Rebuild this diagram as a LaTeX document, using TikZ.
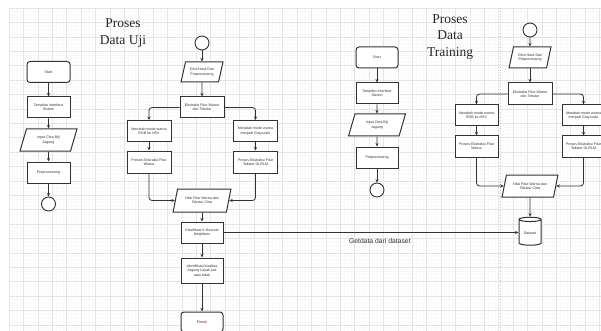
\documentclass[tikz,border=0pt]{standalone}
\usepackage{fontspec}
\usepackage{tikz}
\usetikzlibrary{shapes.geometric,arrows.meta}
\newfontfamily\boxfont{Liberation Sans}
\newfontfamily\titlefont{Liberation Serif}
\definecolor{ink}{rgb}{0.2,0.2,0.2}

\begin{document}
\begin{tikzpicture}[x=1pt, y=-1pt,
	proc/.style={draw=ink, line width=1pt, fill=white, minimum width=43pt, minimum height=21pt,
		inner sep=1pt, align=center, text=ink, font=\boxfont\fontsize{3.6}{4.4}\selectfont},
	term/.style={proc, rounded corners=3pt},
	io/.style={proc, trapezium, trapezium left angle=70, trapezium right angle=110,
		trapezium stretches=true},
	stop/.style={circle, draw=ink, line width=0.9pt, fill=white, minimum size=14pt, inner sep=0pt},
	db/.style={proc, cylinder, shape border rotate=90, aspect=0.3, minimum width=22pt, minimum height=28pt},
	flow/.style={draw=ink, line width=0.8pt, rounded corners=3pt, -{Stealth[length=3.5pt,width=3pt]}},
	title/.style={align=center, text=black!85, font=\titlefont\fontsize{13.5}{16.5}\selectfont}]
	\useasboundingbox (0,0) rectangle (601,331);
	\clip (0,0) rectangle (601,331);
	%\draw[help lines] (0,0) grid (601,331);
		\fill[white] (0,0) rectangle (601,331);
		\foreach \k in {0,...,164}{
		  \draw[gray!4, line width=0.3pt] ({9+3.6*\k},8) -- ({9+3.6*\k},331);
		  \draw[gray!4, line width=0.3pt] (9,{8+3.6*\k}) -- (601,{8+3.6*\k});
		}
		\foreach \k in {0,...,41}{
		  \draw[gray!20, line width=0.4pt] ({9+14.4*\k},8) -- ({9+14.4*\k},331);
		  \draw[gray!20, line width=0.4pt] (9,{8+14.4*\k}) -- (601,{8+14.4*\k});
		}
		\draw[gray!45, line width=0.8pt, dotted] (500,8) -- (500,331);

		% titles
		\node[title] (judulUji) at (123,33) {Proses\\Data Uji};
		\node[title] (judulLatih) at (450,37) {Proses\\Data\\Training};

		% input
		\node[term] (mulaiA) at (48.5,72) {Start};
		\node[proc] (tampilA) at (48.5,107.5) {Tampilan Interface\\Sistem};
		\node[io, minimum width=57pt, minimum height=22pt] (inputA) at (48.5,140) {Input Citra Biji\\Jagung};
		\node[proc] (prepA) at (48.5,172.5) {Preprocessing};
		\node[stop] (akhirA) at (48.5,204) {};
		\foreach \a/\b in {mulaiA/tampilA, tampilA/inputA, inputA/prepA, prepA/akhirA}{
		  \draw[flow] (\a) -- (\b);
		}

		% data uji
		\node[stop] (mulaiB) at (202,43) {};
		\node[io, minimum width=42pt, minimum height=20pt] (citraB) at (202,72) {Citra Hasil Dari\\Preprocessing};
		\node[proc, minimum width=44pt] (ekstrB) at (202,107.5) {Ekstraksi Fitur Warna\\dan Tekstur};
		\node[proc, minimum width=44pt] (hsvB) at (149,131) {Merubah mode warna\\RGB ke HSV};
		\node[proc, minimum width=44pt, minimum height=22pt] (warnaB) at (149,162) {Proses Ekstraksi Fitur\\Warna};
		\node[proc, minimum width=44pt] (grayB) at (255.5,131) {Merubah mode warna\\menjadi Grayscale};
		\node[proc, minimum width=44pt, minimum height=22pt] (glrlmB) at (255.5,162) {Proses Ekstraksi Fitur\\Tekstur GLRLM};
		\node[io, minimum width=58pt, minimum height=23pt] (nilaiB) at (202,200.5) {Nilai Fitur Warna dan\\Tekstur Citra};
		\node[proc, minimum width=42pt] (knnB) at (202,232.5) {Klasifikasi K-Nearest\\Neighbors};
		\node[proc, minimum width=42pt, minimum height=25pt] (identB) at (202,270.5) {Identifikasi Kualitas\\Jagung Layak jual\\atau tidak};
		\node[term, minimum width=42pt, minimum height=20pt, text=red!45!black] (selesaiB) at (202,322) {Finish};
		\draw[flow] (mulaiB) -- (citraB);
		\draw[flow] (citraB) -- (ekstrB);
		\draw[flow] (ekstrB.west) -| (hsvB.north);
		\draw[flow] (ekstrB.east) -| (grayB.north);
		\draw[flow] (hsvB) -- (warnaB);
		\draw[flow] (grayB) -- (glrlmB);
		\draw[flow] (warnaB.south) |- (nilaiB.west);
		\draw[flow] (glrlmB.south) |- (nilaiB.east);
		\draw[flow] (nilaiB) -- (knnB);
		\draw[flow] (knnB) -- (identB);
		\draw[flow] (identB) -- (selesaiB);

		% input training
		\node[term, minimum width=42pt] (mulaiC) at (377,57.5) {Start};
		\node[proc, minimum width=42pt] (tampilC) at (377,93.5) {Tampilan Interface\\Sistem};
		\node[io, minimum width=57pt, minimum height=22pt] (inputC) at (377,125) {Input Citra Biji\\Jagung};
		\node[proc, minimum width=42pt] (prepC) at (377,157.5) {Preprocessing};
		\node[stop] (akhirC) at (377,190) {};
		\foreach \a/\b in {mulaiC/tampilC, tampilC/inputC, inputC/prepC, prepC/akhirC}{
		  \draw[flow] (\a) -- (\b);
		}

		% data training
		\node[stop] (mulaiD) at (530,30) {};
		\node[io, minimum width=42pt] (citraD) at (530,57.5) {Citra Hasil Dari\\Preprocessing};
		\node[proc, minimum width=44pt, minimum height=22pt] (ekstrD) at (530,94) {Ekstraksi Fitur Warna\\dan Tekstur};
		\node[proc] (hsvD) at (476.5,115.5) {Merubah mode warna\\RGB ke HSV};
		\node[proc] (warnaD) at (476.5,146.5) {Proses Ekstraksi Fitur\\Warna};
		\node[proc] (grayD) at (583.5,115.5) {Merubah mode warna\\menjadi Grayscale};
		\node[proc] (glrlmD) at (583.5,146.5) {Proses Ekstraksi Fitur\\Tekstur GLRLM};
		\node[io, minimum width=56pt, minimum height=22pt] (nilaiD) at (530,186) {Nilai Fitur Warna dan\\Tekstur Citra};
		\node[db] (dataset) at (530,233) {Dataset};
		\draw[flow] (mulaiD) -- (citraD);
		\draw[flow] (citraD) -- (ekstrD);
		\draw[flow] (ekstrD.west) -| (hsvD.north);
		\draw[flow] (ekstrD.east) -| (grayD.north);
		\draw[flow] (hsvD) -- (warnaD);
		\draw[flow] (grayD) -- (glrlmD);
		\draw[flow] (warnaD.south) |- (nilaiD.west);
		\draw[flow] (glrlmD.south) |- (nilaiD.east);
		\draw[flow] (nilaiD) -- (dataset);

		\draw[flow] (knnB.east) -- (knnB.east -| dataset.west)
		  node[pos=0.53, below=2pt, text=ink, font=\boxfont\fontsize{6.8}{8}\selectfont] (getdata) {Getdata dari dataset};
	\end{tikzpicture}
\end{document}
